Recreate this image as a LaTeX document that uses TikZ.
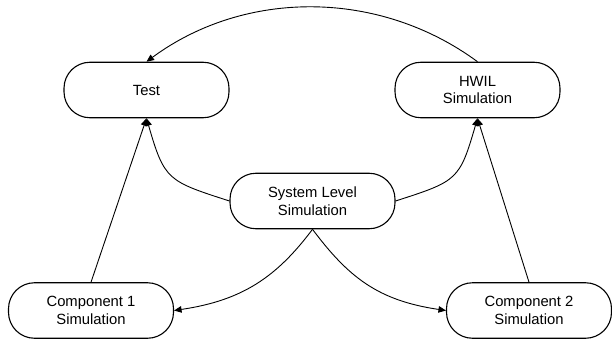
\documentclass[tikz,border=0pt]{standalone}
\usepackage{fontspec}
\setmainfont{Liberation Sans}
\usetikzlibrary{arrows.meta}
\begin{document}
\begin{tikzpicture}[x=1pt,y=-1pt,
  stage/.style={draw=black, line width=1.1pt, rounded corners=26pt,
    minimum width=165pt, minimum height=55.5pt, align=center,
    font=\fontsize{14.8}{17.6}\selectfont, inner sep=0pt},
  flow/.style={draw=black, line width=0.9pt,
    -{Triangle[length=7.5pt,width=6.5pt]}}]
\useasboundingbox (0,0) rectangle (612,339);
% Stages
\node[stage] (test) at (146.5,90) {Test};
\node[stage] (hwil) at (477.5,90) {HWIL\\Simulation};
\node[stage] (sys) at (312.5,201) {System Level\\Simulation};
\node[stage] (c1) at (91,310.5) {Component 1\\Simulation};
\node[stage] (c2) at (529,310.5) {Component 2\\Simulation};
% HWIL results feed back to test
\draw[flow] (hwil.north) .. controls (379,-10.8) and (245,-10.8) .. (test.north);
% Component simulations feed upward
\draw[flow] (c1.north) -- (test.south);
\draw[flow] (c2.north) -- (hwil.south);
% System level links
\draw[flow] (sys.west) .. controls +(-62,-20) and +(18,62) .. (test.south);
\draw[flow] (sys.east) .. controls +(62,-20) and +(-18,62) .. (hwil.south);
\draw[flow] (sys.south) .. controls +(-36,48) and +(68,-10) .. (c1.east);
\draw[flow] (sys.south) .. controls +(36,48) and +(-68,-10) .. (c2.west);
\end{tikzpicture}
\end{document}
